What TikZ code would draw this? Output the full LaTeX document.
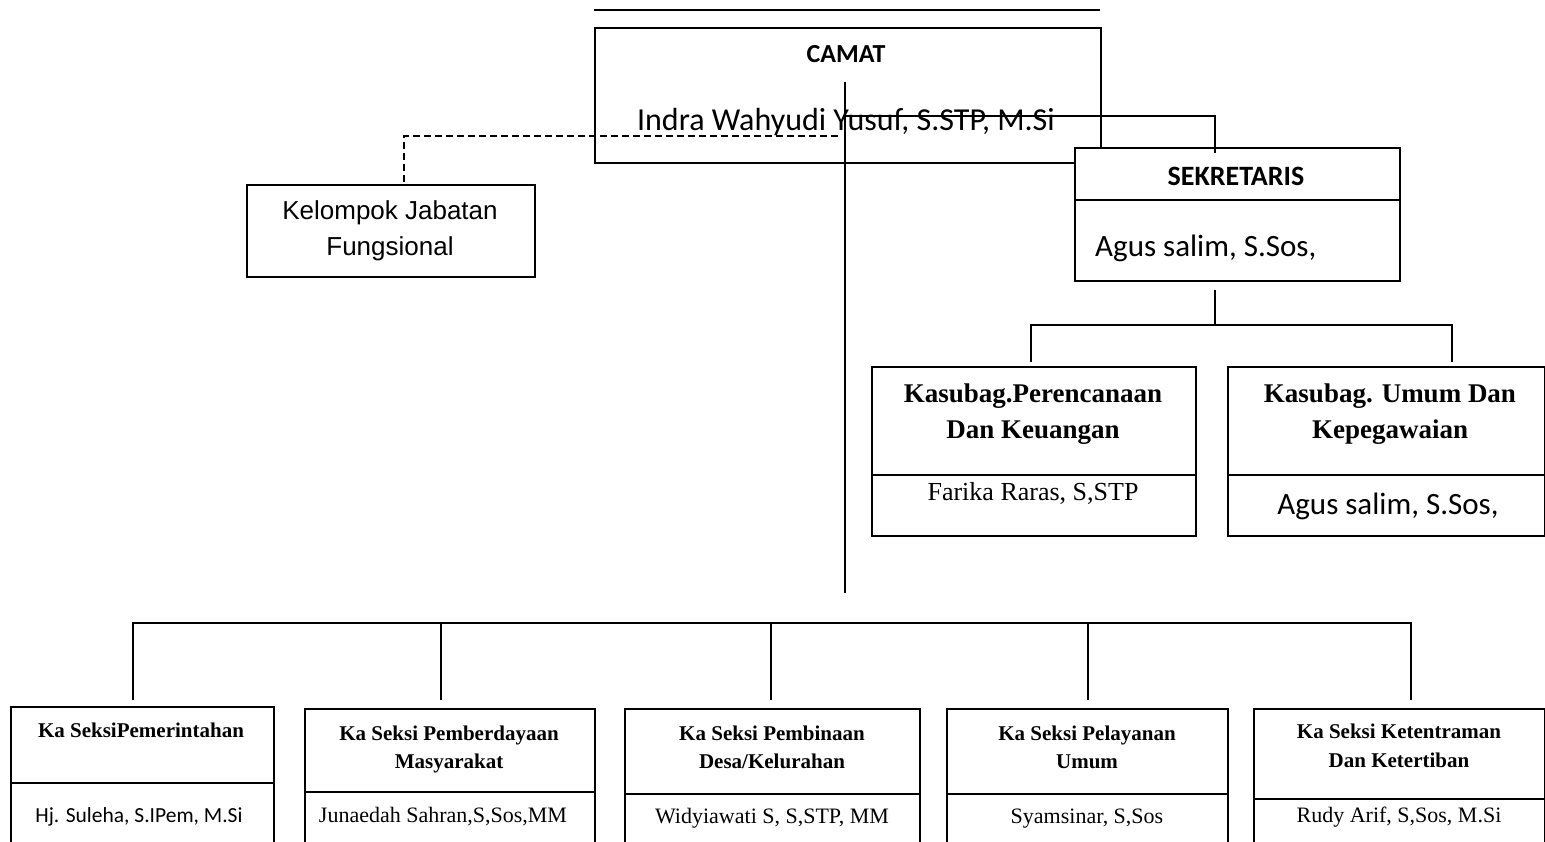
\documentclass[tikz,border=0pt]{standalone}
\usepackage{fontspec}
\setmainfont{Liberation Serif}
\newfontfamily\calfont{Carlito}
\newfontfamily\arfont{Liberation Sans}
\begin{document}
\begin{tikzpicture}[x=1pt,y=-1pt,
  box/.style={draw, line width=1.6pt, inner sep=0pt, anchor=north west, fill=white},
  conn/.style={line width=1.6pt},
  dashconn/.style={line width=1.5pt, dash pattern=on 7pt off 4pt},
  lbl/.style={inner sep=0pt, anchor=base},
  hcal/.style={font=\calfont\bfseries\fontsize{26}{30}\selectfont},
  ncal/.style={font=\calfont\fontsize{32}{36}\selectfont},
  hkas/.style={font=\bfseries\fontsize{27}{32}\selectfont},
  hsek/.style={font=\bfseries\fontsize{21}{26}\selectfont},
  nsek/.style={font=\fontsize{22}{26}\selectfont}]
\useasboundingbox (0,0) rectangle (1545,842);
\clip (0,0) rectangle (1545,842);

% top line
\coordinate (tl) at (594,10);
\coordinate (tr) at (1100,10);
\draw[conn] (tl) -- (tr);

% CAMAT
\node[box, minimum width=506pt, minimum height=135pt] (camat) at (594,27) {};
\node[lbl, hcal] (camatT) at (846,63) {CAMAT};
\node[lbl, ncal] (camatN) at (846,131) {Indra Wahyudi Yusuf, S.STP, M.Si};

% Kelompok Jabatan Fungsional
\node[box, minimum width=288pt, minimum height=92pt] (kel) at (246,184) {};
\node[lbl, font=\arfont\fontsize{26}{30}\selectfont] (kel1) at (390,220) {Kelompok Jabatan};
\node[lbl, font=\arfont\fontsize{26}{30}\selectfont] (kel2) at (390,256) {Fungsional};

% dashed connector
\coordinate (dA) at (838,136);
\coordinate (dB) at (404,136);
\coordinate (dC) at (404,184);
\draw[dashconn] (dA) -- (dB) -- (dC);

% central vertical
\coordinate (ctop) at (845,82);
\coordinate (cbot) at (845,593);
\draw[conn] (ctop) -- (cbot);

% SEKRETARIS
\node[box, minimum width=325pt, minimum height=133pt] (sek) at (1074,147) {};
\draw[conn] (1074,200) -- (1399,200);
\node[lbl, font=\calfont\bfseries\fontsize{28}{32}\selectfont] (sekT) at (1236,186) {SEKRETARIS};
\node[lbl, font=\calfont\fontsize{31}{36}\selectfont, anchor=base west] (sekN) at (1095,257) {Agus salim, S.Sos,};

% camat -> sekretaris
\coordinate (cs1) at (845,116);
\coordinate (cs2) at (1215,153);
\draw[conn] (cs1) -| (cs2);

% sekretaris -> kasubag
\coordinate (sb) at (1215,290);
\coordinate (sbus) at (1215,325);
\coordinate (k1t) at (1031,362);
\coordinate (k2t) at (1452,362);
\draw[conn] (sb) -- (sbus);
\draw[conn] (k1t) |- (sbus) -| (k2t);

% Kasubag 1
\node[box, minimum width=324pt, minimum height=169pt] (kas1) at (871,366) {};
\draw[conn] (871,475) -- (1195,475);
\node[lbl, hkas] (kas1a) at (1033,402) {Kasubag.Perencanaan};
\node[lbl, hkas] (kas1b) at (1033,438) {Dan Keuangan};
\node[lbl, font=\fontsize{26}{30}\selectfont] (kas1n) at (1033,500) {Farika Raras, S,STP};

% Kasubag 2
\node[box, minimum width=317pt, minimum height=169pt] (kas2) at (1227,366) {};
\draw[conn] (1227,475) -- (1545,475);
\node[lbl, hkas] (kas2a) at (1390,402) {Kasubag. Umum Dan};
\node[lbl, hkas] (kas2b) at (1390,438) {Kepegawaian};
\node[lbl, font=\calfont\fontsize{31}{36}\selectfont] (kas2n) at (1388,514) {Agus salim, S.Sos,};

% bottom bus
\coordinate (bb1) at (133,700);
\coordinate (bb2) at (441,700);
\coordinate (bb3) at (771,700);
\coordinate (bb4) at (1088,700);
\coordinate (bb5) at (1411,700);
\coordinate (busL) at (133,623);
\coordinate (busR) at (1411,623);
\draw[conn] (bb1) -- (busL) -- (busR) -- (bb5);
\draw[conn] (bb2) -- (bb2 |- busL);
\draw[conn] (bb3) -- (bb3 |- busL);
\draw[conn] (bb4) -- (bb4 |- busL);

% bottom boxes
\node[box, minimum width=263pt, minimum height=170pt] (b1) at (10,706) {};
\draw[conn] (10,783) -- (273,783);
\node[lbl, hsek] (b1a) at (141,737) {Ka SeksiPemerintahan};
\node[lbl, font=\calfont\fontsize{21.5}{26}\selectfont] (b1n) at (139,822) {Hj. Suleha, S.IPem, M.Si};

\node[box, minimum width=290pt, minimum height=170pt] (b2) at (304,708) {};
\draw[conn] (304,792) -- (594,792);
\node[lbl, hsek] (b2a) at (449,740) {Ka Seksi Pemberdayaan};
\node[lbl, hsek] (b2b) at (449,768) {Masyarakat};
\node[lbl, nsek] (b2n) at (443,822) {Junaedah Sahran,S,Sos,MM};

\node[box, minimum width=295pt, minimum height=170pt] (b3) at (624,708) {};
\draw[conn] (624,794) -- (919,794);
\node[lbl, hsek] (b3a) at (772,740) {Ka Seksi Pembinaan};
\node[lbl, hsek] (b3b) at (772,768) {Desa/Kelurahan};
\node[lbl, nsek] (b3n) at (772,823) {Widyiawati S, S,STP, MM};

\node[box, minimum width=281pt, minimum height=170pt] (b4) at (946,708) {};
\draw[conn] (946,794) -- (1227,794);
\node[lbl, hsek] (b4a) at (1087,740) {Ka Seksi Pelayanan};
\node[lbl, hsek] (b4b) at (1087,768) {Umum};
\node[lbl, nsek] (b4n) at (1087,823) {Syamsinar, S,Sos};

\node[box, minimum width=291pt, minimum height=170pt] (b5) at (1253,708) {};
\draw[conn] (1253,799) -- (1544,799);
\node[lbl, hsek] (b5a) at (1399,738) {Ka Seksi Ketentraman};
\node[lbl, hsek] (b5b) at (1399,767) {Dan Ketertiban};
\node[lbl, nsek] (b5n) at (1399,822) {Rudy Arif, S,Sos, M.Si};
\end{tikzpicture}
\end{document}
